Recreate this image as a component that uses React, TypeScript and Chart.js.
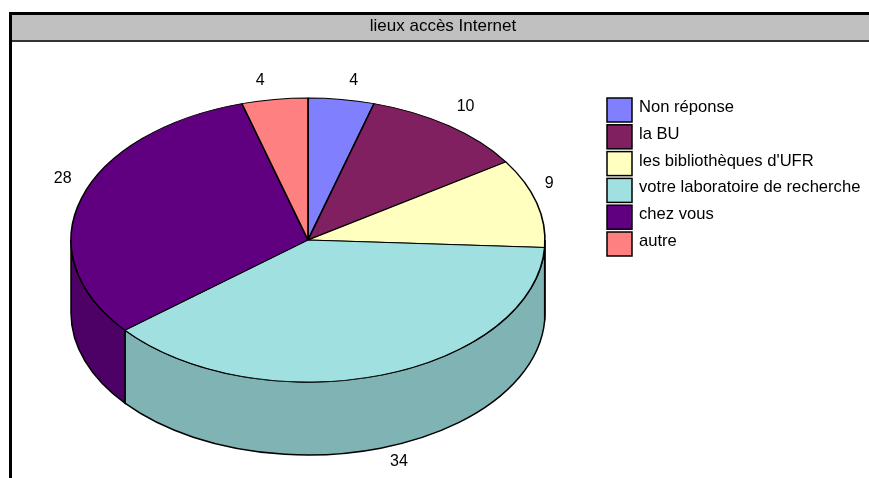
import React, { useEffect, useRef } from "react";
import { Chart, registerables } from "chart.js";

Chart.register(...registerables);

const TITLE = "lieux accès Internet";
const categories = [
  "Non réponse",
  "la BU",
  "les bibliothèques d'UFR",
  "votre laboratoire de recherche",
  "chez vous",
  "autre",
];
const values = [4, 10, 9, 34, 28, 4];
const colors = ["#8080FF", "#802060", "#FFFFC0", "#A0E0E0", "#600080", "#FF8080"];

const W = 869;
const H = 478;
const RX = 237;
const RY = 142;
const DEPTH = 73;
const FONT = "16px 'Liberation Sans', Arial, sans-serif";
const LEGEND_FONT = "16.6px 'Liberation Sans', Arial, sans-serif";
const TITLE_FONT = "17px 'Liberation Sans', Arial, sans-serif";

function darken(hex: string, f: number) {
  const n = parseInt(hex.slice(1), 16);
  const r = Math.round(((n >> 16) & 255) * f);
  const g = Math.round(((n >> 8) & 255) * f);
  const b = Math.round((n & 255) * f);
  return `rgb(${r},${g},${b})`;
}

const pie3d = {
  id: "pie3d",
  beforeDraw(chart: any) {
    const ctx = chart.ctx;
    ctx.save();
    ctx.fillStyle = "#fff";
    ctx.fillRect(0, 0, W, H);
    // title band
    ctx.fillStyle = "#C0C0C0";
    ctx.fillRect(10, 14, W - 10, 26);
    ctx.fillStyle = "#000";
    ctx.fillRect(9, 12, W - 9, 3);
    ctx.fillStyle = "#333";
    ctx.fillRect(10, 40, W - 10, 2);
    ctx.fillStyle = "#000";
    ctx.fillRect(9, 12, 3, H - 12);
    ctx.fillStyle = "#000";
    ctx.font = TITLE_FONT;
    ctx.textAlign = "center";
    ctx.textBaseline = "alphabetic";
    ctx.fillText(TITLE, 443, 31);
    ctx.restore();
  },
  beforeDatasetsDraw(chart: any) {
    const ctx = chart.ctx;
    const arcs = chart.getDatasetMeta(0).data;
    const cx = arcs[0].x;
    const cy = arcs[0].y;
    const R = arcs[0].outerRadius;
    const ry = (R * RY) / RX;
    ctx.save();
    ctx.lineWidth = 1.5;
    ctx.strokeStyle = "#000";
    arcs.forEach((arc: any, i: number) => {
      const a1 = Math.max(arc.startAngle, 0);
      const a2 = Math.min(arc.endAngle, Math.PI);
      if (a1 >= a2) return;
      ctx.beginPath();
      ctx.ellipse(cx, cy, R, ry, 0, a1, a2, false);
      ctx.lineTo(cx + R * Math.cos(a2), cy + DEPTH + ry * Math.sin(a2));
      ctx.ellipse(cx, cy + DEPTH, R, ry, 0, a2, a1, true);
      ctx.closePath();
      ctx.fillStyle = darken(colors[i], 0.8);
      ctx.fill();
      ctx.stroke();
    });
    ctx.restore();
    ctx.save();
    ctx.translate(cx, cy);
    ctx.scale(1, ry / R);
    ctx.translate(-cx, -cy);
  },
  afterDatasetsDraw(chart: any) {
    const ctx = chart.ctx;
    ctx.restore();
    const arcs = chart.getDatasetMeta(0).data;
    const cx = arcs[0].x;
    const cy = arcs[0].y;
    const R = arcs[0].outerRadius;
    const ry = (R * RY) / RX;
    ctx.save();
    ctx.font = FONT;
    ctx.fillStyle = "#000";
    ctx.textBaseline = "middle";
    arcs.forEach((arc: any, i: number) => {
      const mid = (arc.startAngle + arc.endAngle) / 2;
      const c = Math.cos(mid);
      const s = Math.sin(mid);
      const px = cx + R * c;
      const py = cy + ry * s;
      ctx.textAlign = c >= 0 ? "left" : "right";
      const x = px + (c >= 0 ? 8 : -10);
      const y = s < 0 ? py - 19 : py + DEPTH + 14;
      ctx.fillText(String(values[i]), x, y);
    });
    // legend
    const lx = 607;
    const ly = 98;
    const step = 26.8;
    ctx.font = LEGEND_FONT;
    categories.forEach((label, i) => {
      const y = ly + i * step;
      ctx.fillStyle = colors[i];
      ctx.fillRect(lx, y, 25, 24);
      ctx.lineWidth = 1.5;
      ctx.strokeStyle = "#000";
      ctx.strokeRect(lx, y, 25, 24);
      ctx.fillStyle = "#000";
      ctx.textAlign = "left";
      ctx.textBaseline = "alphabetic";
      ctx.fillText(label, 639, y + 13.9);
    });
    ctx.restore();
  },
};

export default function App() {
  const ref = useRef<HTMLCanvasElement | null>(null);
  useEffect(() => {
    if (!ref.current) return;
    const chart = new Chart(ref.current, {
      type: "pie",
      data: {
        labels: categories,
        datasets: [
          {
            data: values,
            backgroundColor: colors,
            borderColor: "#000",
            borderWidth: 1.6,
            radius: RX,
            clip: false,
          } as any,
        ],
      },
      options: {
        responsive: false,
        animation: false,
        events: [],
        layout: { padding: { left: 71, right: W - 545, top: 3, bottom: 1 } },
        plugins: {
          legend: { display: false },
          tooltip: { enabled: false },
          title: { display: false },
        },
      },
      plugins: [pie3d],
    });
    return () => chart.destroy();
  }, []);
  return (
    <div style={{ position: "absolute", left: 0, top: 0, width: W, height: H }}>
      <canvas ref={ref} width={W} height={H} style={{ display: "block" }} />
    </div>
  );
}
